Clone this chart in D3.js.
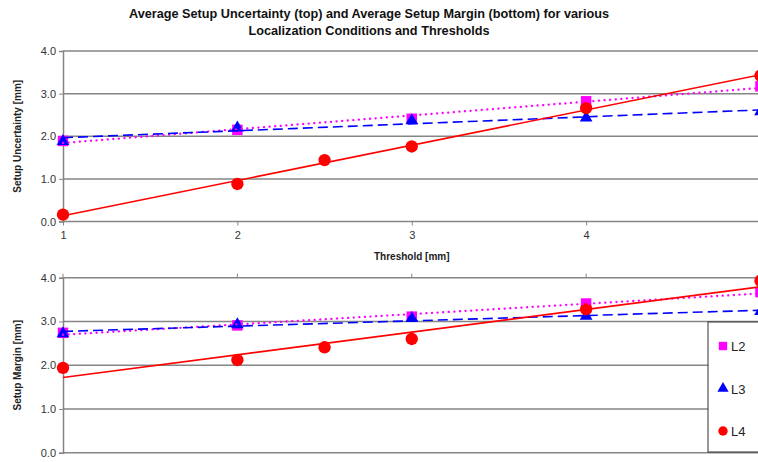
<!DOCTYPE html>
<html>
<head>
<meta charset="utf-8">
<script src="https://cdn.jsdelivr.net/npm/d3@7"></script>
<style>
  body { margin: 0; background: #fff; }
  text { font-family: "Liberation Sans", Arial, sans-serif; }
</style>
</head>
<body>
<div id="chart-container"></div>
<script>
const width = 758;
const height = 462;

// thresholds [mm]
const thresholds = [1, 2, 3, 4, 5];
const l4Thresholds = [1, 2, 2.5, 3, 4, 5];
const yTicks = [0, 1, 2, 3, 4];

// average setup uncertainty [mm] (top)
const uncL2 = [1.89, 2.15, 2.41, 2.82, 3.17];
const uncL3 = [1.88, 2.20, 2.37, 2.43, 2.58];
const uncL4 = [0.16, 0.88, 1.44, 1.76, 2.66, 3.42];

// average setup margin [mm] (bottom)
const marL2 = [2.74, 2.91, 3.11, 3.41, 3.67];
const marL3 = [2.72, 2.93, 3.07, 3.12, 3.23];
const marL4 = [1.94, 2.12, 2.41, 2.60, 3.28, 3.93];

const seriesNames = ["L2", "L3", "L4"];

const svg = d3.select("#chart-container")
  .append("svg")
  .attr("width", width)
  .attr("height", height);

// title
const title = svg.append("text")
  .attr("text-anchor", "middle")
  .style("font-size", "12.7px")
  .style("font-weight", "bold")
  .attr("fill", "#111");
title.append("tspan").attr("x", 369).attr("y", 18)
  .text("Average Setup Uncertainty (top) and Average Setup Margin (bottom) for various");
title.append("tspan").attr("x", 369).attr("y", 35)
  .text("Localization Conditions and Thresholds");

const x = d3.scaleLinear().domain([1, 5]).range([63, 760.5]);

// least squares trendline
function fit(xs, ys) {
  const mx = d3.mean(xs), my = d3.mean(ys);
  let sxy = 0, sxx = 0;
  xs.forEach((v, i) => { sxy += (v - mx) * (ys[i] - my); sxx += (v - mx) * (v - mx); });
  const b = sxy / sxx;
  return t => my + b * (t - mx);
}

const styles = {
  L2: { color: "#ff00ff", dash: "0.1 5.5", width: 2.3, cap: "round", symbol: d3.symbolSquare, size: 110 },
  L3: { color: "#0000ff", dash: "10 5", width: 1.6, cap: "butt", symbol: d3.symbolTriangle, size: 70 },
  L4: { color: "#ff0000", dash: null, width: 1.6, cap: "butt", symbol: d3.symbolCircle, size: 120 }
};

function panel(top, bottom, yLabel, data, opts) {
  const y = d3.scaleLinear().domain([0, 4]).range([bottom, top]);
  const g = svg.append("g");

  // gridlines
  g.selectAll(".grid").data(yTicks).enter().append("line")
    .attr("x1", x(1)).attr("x2", width)
    .attr("y1", d => y(d)).attr("y2", d => y(d))
    .attr("stroke", "#858585").attr("stroke-width", 1.5);

  // y axis
  const yAxis = d3.axisLeft(y).tickValues(yTicks).tickFormat(d3.format(".1f")).tickSize(4).tickPadding(3);
  const ya = g.append("g").attr("transform", `translate(${x(1)},0)`).call(yAxis);
  ya.select(".domain").attr("stroke", "#858585").attr("stroke-width", 1.5);
  ya.selectAll(".tick line").attr("stroke", "#858585");
  ya.selectAll(".tick text").attr("fill", "#333").style("font-size", "11px")
    .style("font-family", "'Liberation Sans', Arial, sans-serif");

  // x axis ticks
  if (opts.xLabels) {
    const xAxis = d3.axisBottom(x).tickValues(thresholds).tickFormat(d3.format("d")).tickSize(4).tickPadding(6);
    const xa = g.append("g").attr("transform", `translate(0,${bottom})`).call(xAxis);
    xa.select(".domain").remove();
    xa.selectAll(".tick line").attr("stroke", "#858585");
    xa.selectAll(".tick text").attr("fill", "#333").style("font-size", "11px")
      .style("font-family", "'Liberation Sans', Arial, sans-serif");
    g.append("text")
      .attr("x", x(3)).attr("y", bottom + 38)
      .attr("text-anchor", "middle")
      .style("font-size", "10px").style("font-weight", "bold").attr("fill", "#222")
      .text("Threshold [mm]");
  } else {
    g.selectAll(".toptick").data(thresholds).enter().append("line")
      .attr("x1", d => x(d)).attr("x2", d => x(d))
      .attr("y1", top - 4).attr("y2", top)
      .attr("stroke", "#858585");
  }

  // y label
  g.append("text")
    .attr("transform", `translate(21,${(top + bottom) / 2}) rotate(-90)`)
    .attr("text-anchor", "middle")
    .style("font-size", "10px").style("font-weight", "bold").attr("fill", "#222")
    .text(yLabel);

  // markers
  data.forEach(s => {
    const st = styles[s.name];
    g.selectAll(null).data(s.ys.map((v, i) => [s.xs[i], v])).enter().append("path")
      .attr("d", d3.symbol().type(st.symbol).size(st.size))
      .attr("transform", d => `translate(${x(d[0])},${y(d[1])})`)
      .attr("fill", st.color);
  });

  // trendlines
  data.forEach(s => {
    const st = styles[s.name];
    const f = fit(s.xs, s.ys);
    g.append("line")
      .attr("x1", x(1)).attr("y1", y(f(1)))
      .attr("x2", x(5)).attr("y2", y(f(5)))
      .attr("stroke", st.color).attr("stroke-width", st.width)
      .attr("stroke-linecap", st.cap)
      .attr("stroke-dasharray", st.dash);
  });
  return y;
}

panel(51, 221.5, "Setup Uncertainty [mm]", [
  { name: "L2", xs: thresholds, ys: uncL2 },
  { name: "L3", xs: thresholds, ys: uncL3 },
  { name: "L4", xs: l4Thresholds, ys: uncL4 }
], { xLabels: true });

panel(277.7, 452.7, "Setup Margin [mm]", [
  { name: "L2", xs: thresholds, ys: marL2 },
  { name: "L3", xs: thresholds, ys: marL3 },
  { name: "L4", xs: l4Thresholds, ys: marL4 }
], { xLabels: false });

// legend
const legend = svg.append("g").attr("transform", "translate(708,322)");
legend.append("rect")
  .attr("width", 56).attr("height", 130)
  .attr("fill", "#fff").attr("stroke", "#333").attr("stroke-width", 1);
seriesNames.forEach((name, i) => {
  const st = styles[name];
  const ly = 24 + i * 42.5;
  legend.append("path")
    .attr("d", d3.symbol().type(st.symbol).size(name === "L3" ? 55 : 70))
    .attr("transform", `translate(15,${ly})`)
    .attr("fill", st.color);
  legend.append("text")
    .attr("x", 23).attr("y", ly + 5)
    .style("font-size", "13px").attr("fill", "#222")
    .text(name);
});
</script>
</body>
</html>
